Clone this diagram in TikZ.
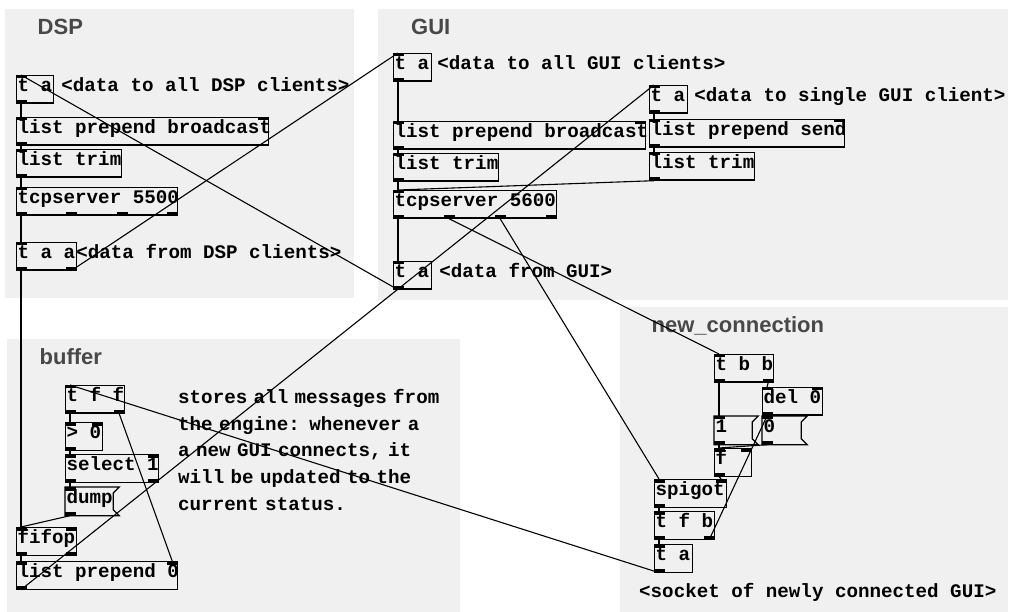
\documentclass[tikz,border=0pt]{standalone}
\usepackage{fontspec}
\usepackage{tikz}
\usetikzlibrary{calc, positioning}

\newfontfamily\pdmono{Liberation Mono}
\newfontfamily\pdsans{Liberation Sans}

\definecolor{canvasgray}{RGB}{240,240,240}
\definecolor{labelgray}{RGB}{72,72,72}

% box text, left aligned in a box of given width
\newcommand{\pdbox}[2]{\makebox[#1pt][l]{\hspace{1pt}#2}}
% inlets / outlets at fractions of the box width
\newcommand{\inlets}[2]{\foreach \f in {#2} {\fill ($(#1.north west)!\f!([xshift=-11pt]#1.north east)$) rectangle +(11pt,-3.5pt);}}
\newcommand{\outlets}[2]{\foreach \f in {#2} {\fill ($(#1.south west)!\f!([xshift=-11pt]#1.south east)$) rectangle +(11pt,3.5pt);}}
% patch cord: outlet of #1 to inlet of #3
\newcommand{\cord}[4]{\draw[cord] ($(#1.south west)!#2!([xshift=-11pt]#1.south east)+(5pt,0pt)$) -- ($(#3.north west)!#4!([xshift=-11pt]#3.north east)+(5pt,0pt)$);}
% message box outline
\newcommand{\msgflag}[1]{\draw[boxline] (#1.north west) -- (#1.north east) -- ([shift={(-6pt,-6pt)}]#1.north east) -- ([shift={(-6pt,6pt)}]#1.south east) -- (#1.south east) -- (#1.south west) -- cycle;}

\begin{document}
\begin{tikzpicture}[x=1pt, y=-1pt,
  canvas/.style={fill=canvasgray, draw=none},
  pdlabel/.style={anchor=base west, inner sep=0pt, text=labelgray, font=\pdsans\bfseries\fontsize{22}{26}\selectfont},
  boxline/.style={line width=1.2pt},
  pdobj/.style={draw, boxline, anchor=north west, inner sep=0pt, minimum height=27.5pt, text height=11.5pt, text depth=6.5pt, font=\pdmono\bfseries\fontsize{19.2}{22}\selectfont},
  pdmsg/.style={pdobj, draw=none},
  pdcomment/.style={anchor=base west, inner sep=0pt, font=\pdmono\bfseries\fontsize{19.2}{26.75}\selectfont},
  cord/.style={line width=1.1pt}]
\useasboundingbox (0,0) rectangle (1010,612);

% subpatch canvases
\fill[canvas] (5,9) rectangle (354,298);
\fill[canvas] (378,9) rectangle (1008,300);
\fill[canvas] (7,339) rectangle (460,612);
\fill[canvas] (620,307) rectangle (1008,612);

\node[pdlabel] (dsplabel) at (37.5,35) {DSP};
\node[pdlabel] (guilabel) at (411,35) {GUI};
\node[pdlabel] (bufferlabel) at (39.5,365) {buffer};
\node[pdlabel] (newlabel) at (651.5,333) {new\_connection};

% DSP
\node[pdobj] (dspta) at (16,75) {\pdbox{37}{t a}};
\node[pdobj] (dspprepend) at (16,117) {\pdbox{252}{list prepend broadcast}};
\node[pdobj] (dsptrim) at (16,149) {\pdbox{105}{list trim}};
\node[pdobj] (dsptcp) at (16,187) {\pdbox{161}{tcpserver 5500}};
\node[pdobj] (dsptaa) at (16,242) {\pdbox{60}{t a a}};
\node[pdcomment] (dsptocomment) at ([xshift=7pt]dspta.base east) {<data to all DSP clients>};
\node[pdcomment] (dspfromcomment) at ([xshift=-1pt]dsptaa.base east) {<data from DSP clients>};

% GUI
\node[pdobj] (guita) at (393,53) {\pdbox{38}{t a}};
\node[pdobj] (guiprepend) at (393,121) {\pdbox{252}{list prepend broadcast}};
\node[pdobj] (guitrim) at (393,153) {\pdbox{105}{list trim}};
\node[pdobj] (guitcp) at (393,190) {\pdbox{163}{tcpserver 5600}};
\node[pdobj] (guifrom) at (393,261) {\pdbox{38}{t a}};
\node[pdobj] (singleta) at (649,85) {\pdbox{38}{t a}};
\node[pdobj] (sendprepend) at (649,119) {\pdbox{195}{list prepend send}};
\node[pdobj] (sendtrim) at (649,152) {\pdbox{105}{list trim}};
\node[pdcomment] (guitocomment) at ([xshift=5pt]guita.base east) {<data to all GUI clients>};
\node[pdcomment] (singlecomment) at ([xshift=6pt]singleta.base east) {<data to single GUI client>};
\node[pdcomment] (guifromcomment) at ([xshift=7pt]guifrom.base east) {<data from GUI>};

% buffer
\node[pdobj] (tff) at (65,385) {\pdbox{59}{t f f}};
\node[pdobj] (gtzero) at (65,422) {\pdbox{37}{> 0}};
\node[pdobj] (sel) at (65,454) {\pdbox{93}{select 1}};
\node[pdmsg] (dump) at (65,487) {\pdbox{53}{dump}};
\node[pdobj] (fifop) at (16,527) {\pdbox{60}{fifop}};
\node[pdobj] (lpzero) at (16,561) {\pdbox{161}{list prepend 0}};
\node[pdcomment, text width=290pt, align=left] (buffercomment) at (178,403.5)
  {stores all messages from\\the engine: whenever a\\a new GUI connects, it\\will be updated to the\\current status.};

% new_connection
\node[pdobj] (tbb) at (714,354) {\pdbox{59}{t b b}};
\node[pdobj] (del) at (762,387) {\pdbox{60}{del 0}};
\node[pdmsg] (one) at (714,416) {\pdbox{43}{1}};
\node[pdmsg] (zero) at (762,416) {\pdbox{44}{0}};
\node[pdobj] (flt) at (714,448) {\pdbox{37}{f}};
\node[pdobj] (spigot) at (654,479) {\pdbox{72}{spigot}};
\node[pdobj] (tfb) at (654,511) {\pdbox{60}{t f b}};
\node[pdobj] (newta) at (654,544) {\pdbox{38}{t a}};
\node[pdcomment] (socketcomment) at (639,597) {<socket of newly connected GUI>};

\msgflag{dump}
\msgflag{one}
\msgflag{zero}

% inlets and outlets
\inlets{dspta}{0} \outlets{dspta}{0}
\inlets{dspprepend}{0,1} \outlets{dspprepend}{0}
\inlets{dsptrim}{0} \outlets{dsptrim}{0}
\inlets{dsptcp}{0} \outlets{dsptcp}{0,0.3333,0.6667,1}
\inlets{dsptaa}{0} \outlets{dsptaa}{0,1}
\inlets{guita}{0} \outlets{guita}{0}
\inlets{guiprepend}{0,1} \outlets{guiprepend}{0}
\inlets{guitrim}{0} \outlets{guitrim}{0}
\inlets{guitcp}{0} \outlets{guitcp}{0,0.3333,0.6667,1}
\inlets{guifrom}{0} \outlets{guifrom}{0}
\inlets{singleta}{0} \outlets{singleta}{0}
\inlets{sendprepend}{0,1} \outlets{sendprepend}{0}
\inlets{sendtrim}{0} \outlets{sendtrim}{0}
\inlets{tff}{0} \outlets{tff}{0,1}
\inlets{gtzero}{0,1} \outlets{gtzero}{0}
\inlets{sel}{0,1} \outlets{sel}{0,1}
\inlets{dump}{0} \outlets{dump}{0}
\inlets{fifop}{0,1} \outlets{fifop}{0,1}
\inlets{lpzero}{0,1} \outlets{lpzero}{0}
\inlets{tbb}{0} \outlets{tbb}{0,1}
\inlets{del}{0,1} \outlets{del}{0}
\inlets{one}{0} \outlets{one}{0}
\inlets{zero}{0} \outlets{zero}{0}
\inlets{flt}{0,1} \outlets{flt}{0}
\inlets{spigot}{0,1} \outlets{spigot}{0}
\inlets{tfb}{0} \outlets{tfb}{0,1}
\inlets{newta}{0} \outlets{newta}{0}

% patch cords
\cord{dspta}{0}{dspprepend}{0}
\cord{dspprepend}{0}{dsptrim}{0}
\cord{dsptrim}{0}{dsptcp}{0}
\cord{dsptcp}{0}{dsptaa}{0}
\cord{dsptaa}{0}{fifop}{0}
\cord{dsptaa}{1}{guita}{0}
\cord{guifrom}{0}{dspta}{0}
\cord{guita}{0}{guiprepend}{0}
\cord{guiprepend}{0}{guitrim}{0}
\cord{guitrim}{0}{guitcp}{0}
\cord{guitcp}{0}{guifrom}{0}
\cord{singleta}{0}{sendprepend}{0}
\cord{sendprepend}{0}{sendtrim}{0}
\cord{sendtrim}{0}{guitcp}{0}
\cord{guitcp}{0.3333}{tbb}{0}
\cord{guitcp}{0.6667}{spigot}{0}
\cord{lpzero}{0}{singleta}{0}
\cord{newta}{0}{tff}{0}
\cord{tff}{1}{lpzero}{1}
\cord{tff}{0}{gtzero}{0}
\cord{gtzero}{0}{sel}{0}
\cord{sel}{0}{dump}{0}
\cord{dump}{0}{fifop}{0}
\cord{fifop}{0}{lpzero}{0}
\cord{tbb}{0}{one}{0}
\cord{tbb}{1}{del}{0}
\cord{del}{0}{zero}{0}
\cord{one}{0}{flt}{0}
\cord{zero}{0}{flt}{0}
\cord{flt}{0}{spigot}{1}
\cord{tfb}{1}{zero}{0}
\cord{spigot}{0}{tfb}{0}
\cord{tfb}{0}{newta}{0}

\end{tikzpicture}
\end{document}
